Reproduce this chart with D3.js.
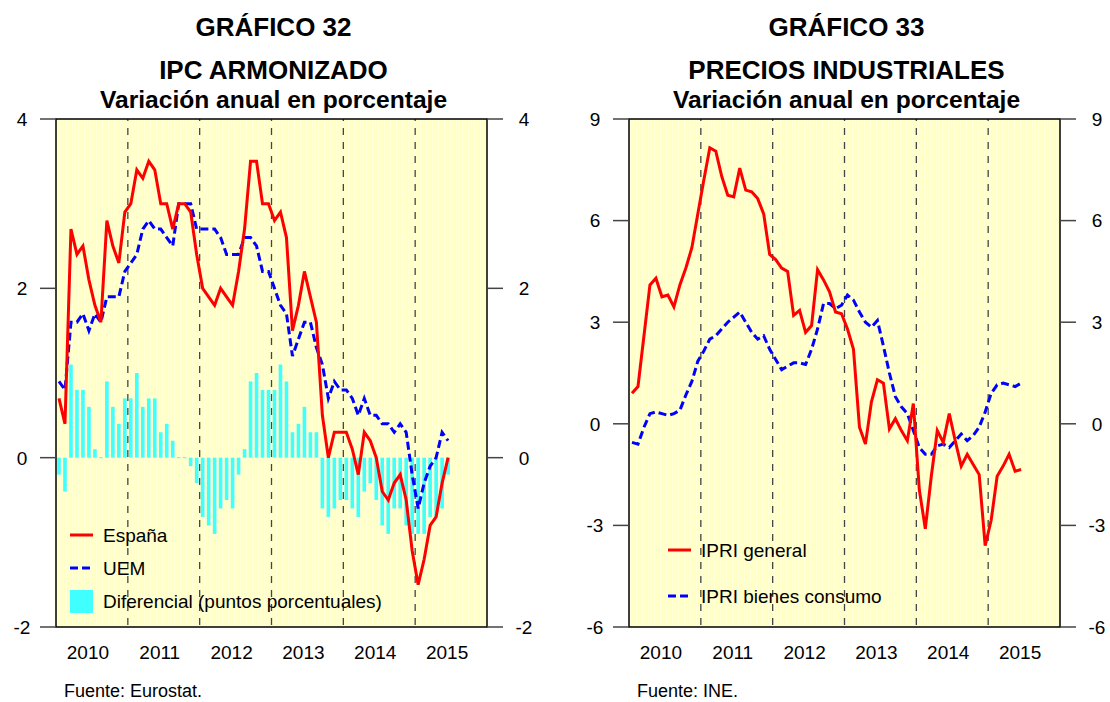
<!DOCTYPE html>
<html lang="es">

<head>
    <meta charset="UTF-8">
    <title>Gráficos 32 y 33</title>
    <style>
        body {
            margin: 0;
            padding: 0;
            background: #fff;
        }

        svg {
            display: block;
            font-family: "Liberation Sans", Arial, sans-serif;
        }

        .title {
            font-weight: bold;
            text-anchor: middle;
            fill: #000;
        }

        .tick-label {
            font-size: 19px;
            text-anchor: middle;
            fill: #000;
        }

        .legend-text {
            font-size: 19px;
            fill: #000;
        }

        .source {
            font-size: 18px;
            fill: #000;
        }
    </style>
</head>

<body>
    <svg width="1110" height="702"></svg>

    <script src="https://d3js.org/d3.v7.min.js"></script>
    <script>
        // Months from Jan 2010 to Jun 2015
        const years = [2010, 2011, 2012, 2013, 2014, 2015];

        // Gráfico 32: IPC armonizado
        const espana = [0.7, 0.4, 2.7, 2.4, 2.5, 2.1, 1.8, 1.6, 2.8, 2.5, 2.3, 2.9,
            3.0, 3.4, 3.3, 3.5, 3.4, 3.0, 3.0, 2.7, 3.0, 3.0, 2.9, 2.4,
            2.0, 1.9, 1.8, 2.0, 1.9, 1.8, 2.2, 2.7, 3.5, 3.5, 3.0, 3.0,
            2.8, 2.9, 2.6, 1.5, 1.8, 2.2, 1.9, 1.6, 0.5, 0.0, 0.3, 0.3,
            0.3, 0.1, -0.2, 0.3, 0.2, 0.0, -0.4, -0.5, -0.3, -0.2, -0.5, -1.1,
            -1.5, -1.2, -0.8, -0.7, -0.3, 0.0];
        const uem = [0.9, 0.8, 1.6, 1.6, 1.7, 1.5, 1.7, 1.6, 1.9, 1.9, 1.9, 2.2,
            2.3, 2.4, 2.7, 2.8, 2.7, 2.7, 2.6, 2.5, 3.0, 3.0, 3.0, 2.7,
            2.7, 2.7, 2.7, 2.6, 2.4, 2.4, 2.4, 2.6, 2.6, 2.5, 2.2, 2.2,
            2.0, 1.8, 1.7, 1.2, 1.4, 1.6, 1.6, 1.3, 1.1, 0.7, 0.9, 0.8,
            0.8, 0.7, 0.5, 0.7, 0.5, 0.5, 0.4, 0.4, 0.3, 0.4, 0.3, -0.2,
            -0.6, -0.3, -0.1, 0.0, 0.3, 0.2];
        const diferencial = [-0.2, -0.4, 1.1, 0.8, 0.8, 0.6, 0.1, 0.0, 0.9, 0.6, 0.4, 0.7,
            0.7, 1.0, 0.6, 0.7, 0.7, 0.3, 0.4, 0.2, 0.0, 0.0, -0.1, -0.3,
            -0.7, -0.8, -0.9, -0.6, -0.5, -0.6, -0.2, 0.1, 0.9, 1.0, 0.8, 0.8,
            0.8, 1.1, 0.9, 0.3, 0.4, 0.6, 0.3, 0.3, -0.6, -0.7, -0.6, -0.5,
            -0.5, -0.6, -0.7, -0.4, -0.3, -0.5, -0.8, -0.9, -0.6, -0.6, -0.8, -0.9,
            -0.9, -0.9, -0.7, -0.7, -0.6, -0.2];
        const ticks32 = [-2, 0, 2, 4];

        // Gráfico 33: precios industriales
        const ipriGeneral = [0.9, 1.1, 2.6, 4.1, 4.3, 3.75, 3.8, 3.45, 4.1, 4.6, 5.2, 6.2,
            7.2, 8.15, 8.05, 7.3, 6.75, 6.7, 7.55, 6.9, 6.85, 6.65, 6.2, 5.0,
            4.85, 4.6, 4.5, 3.2, 3.35, 2.7, 2.9, 4.55, 4.25, 3.9, 3.3, 3.25,
            2.8, 2.2, -0.1, -0.6, 0.65, 1.3, 1.2, -0.15, 0.15, -0.2, -0.5, 0.6,
            -1.95, -3.1, -1.55, -0.2, -0.55, 0.3, -0.5, -1.25, -0.9, -1.2, -1.5, -3.6,
            -2.85, -1.55, -1.25, -0.9, -1.4, -1.35];
        const ipriConsumo = [-0.55, -0.6, -0.1, 0.3, 0.35, 0.3, 0.25, 0.3, 0.4, 0.85, 1.25, 1.85,
            2.15, 2.5, 2.6, 2.8, 3.0, 3.15, 3.3, 3.0, 2.7, 2.5, 2.6, 2.2,
            1.9, 1.6, 1.7, 1.8, 1.8, 1.75, 2.2, 2.8, 3.55, 3.55, 3.4, 3.5,
            3.8, 3.65, 3.3, 3.0, 2.85, 3.05, 2.3, 1.5, 0.8, 0.5, 0.3, -0.2,
            -0.7, -0.9, -0.9, -0.65, -0.6, -0.7, -0.5, -0.3, -0.5, -0.35, -0.1, 0.35,
            0.9, 1.15, 1.2, 1.15, 1.1, 1.2];
        const ticks33 = [-6, -3, 0, 3, 6, 9];

        const svg = d3.select("svg");

        // striped pale yellow fill of the plot areas
        const defs = svg.append("defs");
        const pat = defs.append("pattern")
            .attr("id", "paper")
            .attr("patternUnits", "userSpaceOnUse")
            .attr("width", 3)
            .attr("height", 3);
        pat.append("rect").attr("width", 3).attr("height", 3).attr("fill", "#FFFFC6");
        pat.append("rect").attr("width", 1).attr("height", 3).attr("fill", "#FFFFD9");

        function drawChart(opt) {
            const g = svg.append("g");
            const left = opt.left, right = opt.left + 431;
            const top = 119, bottom = 627;

            const x = d3.scaleLinear().domain([0, 72]).range([left, right]);
            const y = d3.scaleLinear().domain(opt.domain).range([bottom, top]);
            const step = x(1) - x(0);

            // titles
            const cx = (left + right) / 2 + 2;
            g.append("text").attr("class", "title").attr("x", cx).attr("y", 36)
                .style("font-size", "26px").text(opt.number);
            g.append("text").attr("class", "title").attr("x", cx).attr("y", 79)
                .style("font-size", "26px").text(opt.title);
            g.append("text").attr("class", "title").attr("x", cx).attr("y", 107.5)
                .style("font-size", "24.6px").text("Variación anual en porcentaje");

            // plot background
            g.append("rect")
                .attr("x", left).attr("y", top)
                .attr("width", right - left).attr("height", bottom - top)
                .attr("fill", "url(#paper)");

            // year separators
            g.selectAll(".sep")
                .data(years.slice(1))
                .enter()
                .append("line")
                .attr("x1", (d, i) => x((i + 1) * 12))
                .attr("x2", (d, i) => x((i + 1) * 12))
                .attr("y1", top)
                .attr("y2", bottom)
                .attr("stroke", "#444")
                .attr("stroke-width", 1.3)
                .attr("stroke-dasharray", "7,7")
                .attr("stroke-dashoffset", -9);

            // bars (differential)
            if (opt.bars) {
                g.selectAll(".bar")
                    .data(opt.bars)
                    .enter()
                    .append("rect")
                    .attr("x", (d, i) => x(i + 0.5) - step * 0.3)
                    .attr("width", step * 0.6)
                    .attr("y", d => Math.min(y(d), y(0)) - (d === 0 ? 0.5 : 0))
                    .attr("height", d => Math.max(Math.abs(y(d) - y(0)), 1))
                    .attr("fill", "#3FFFFF");
            }

            const line = d3.line()
                .x((d, i) => x(i + 0.5))
                .y(d => y(d));

            g.append("path")
                .datum(opt.dashed)
                .attr("d", line)
                .attr("fill", "none")
                .attr("stroke", "#0000FF")
                .attr("stroke-width", 3)
                .attr("stroke-dasharray", "8,4");

            g.append("path")
                .datum(opt.solid)
                .attr("d", line)
                .attr("fill", "none")
                .attr("stroke", "#FF0000")
                .attr("stroke-width", 3)
                .attr("stroke-linejoin", "miter");

            // frame
            g.append("rect")
                .attr("x", left).attr("y", top)
                .attr("width", right - left).attr("height", bottom - top)
                .attr("fill", "none")
                .attr("stroke", "#000")
                .attr("stroke-width", 1.5);

            // y ticks on both sides
            opt.ticks.forEach(t => {
                g.append("line")
                    .attr("x1", left - 16).attr("x2", left)
                    .attr("y1", y(t)).attr("y2", y(t))
                    .attr("stroke", "#444").attr("stroke-width", 1.5);
                g.append("line")
                    .attr("x1", right).attr("x2", right + 16)
                    .attr("y1", y(t)).attr("y2", y(t))
                    .attr("stroke", "#444").attr("stroke-width", 1.5);
                g.append("text").attr("class", "tick-label")
                    .attr("x", left - 34).attr("y", y(t)).attr("dy", "0.36em").text(t);
                g.append("text").attr("class", "tick-label")
                    .attr("x", right + 37).attr("y", y(t)).attr("dy", "0.36em").text(t);
            });

            // year labels
            g.selectAll(".year")
                .data(years)
                .enter()
                .append("text")
                .attr("class", "tick-label")
                .attr("x", (d, i) => x(i * 12 + 6) - 4)
                .attr("y", 659)
                .text(d => d);

            // legend
            opt.legend.forEach(item => {
                if (item.type === "box") {
                    g.append("rect")
                        .attr("x", item.x).attr("y", item.y - 11)
                        .attr("width", 23).attr("height", 23)
                        .attr("fill", "#3FFFFF");
                } else {
                    g.append("line")
                        .attr("x1", item.x).attr("x2", item.x + 23)
                        .attr("y1", item.y).attr("y2", item.y)
                        .attr("stroke", item.color)
                        .attr("stroke-width", 3)
                        .attr("stroke-dasharray", item.type === "dash" ? "8,4" : null);
                }
                g.append("text").attr("class", "legend-text")
                    .attr("x", item.x + 33).attr("y", item.y).attr("dy", "0.36em")
                    .text(item.label);
            });

            g.append("text").attr("class", "source")
                .attr("x", left + 8).attr("y", 697)
                .text(opt.source);
        }

        drawChart({
            left: 56,
            number: "GRÁFICO 32",
            title: "IPC ARMONIZADO",
            domain: [-2, 4],
            ticks: ticks32,
            solid: espana,
            dashed: uem,
            bars: diferencial,
            source: "Fuente: Eurostat.",
            legend: [
                { type: "line", color: "#FF0000", label: "España", x: 70, y: 535 },
                { type: "dash", color: "#0000FF", label: "UEM", x: 70, y: 568 },
                { type: "box", label: "Diferencial (puntos porcentuales)", x: 70, y: 601 }
            ]
        });

        drawChart({
            left: 629,
            number: "GRÁFICO 33",
            title: "PRECIOS INDUSTRIALES",
            domain: [-6, 9],
            ticks: ticks33,
            solid: ipriGeneral,
            dashed: ipriConsumo,
            source: "Fuente: INE.",
            legend: [
                { type: "line", color: "#FF0000", label: "IPRI general", x: 668, y: 550 },
                { type: "dash", color: "#0000FF", label: "IPRI bienes consumo", x: 668, y: 596 }
            ]
        });
    </script>
</body>

</html>
